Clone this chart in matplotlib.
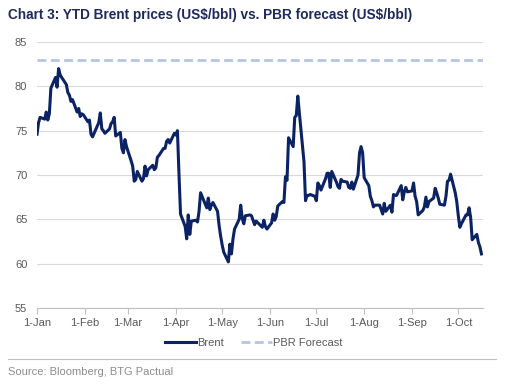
import matplotlib
matplotlib.use("Agg")
import matplotlib.pyplot as plt
import matplotlib.dates as mdates
import pandas as pd
from matplotlib.lines import Line2D

plt.rcParams['font.family'] = ['Liberation Sans', 'DejaVu Sans']

# Brent daily closes (US$/bbl)
dates = pd.to_datetime([
    "2025-01-01", "2025-01-02", "2025-01-03", "2025-01-06", "2025-01-07", "2025-01-08", "2025-01-09",
    "2025-01-10", "2025-01-13", "2025-01-14", "2025-01-15", "2025-01-16", "2025-01-17", "2025-01-20",
    "2025-01-21", "2025-01-22", "2025-01-23", "2025-01-24", "2025-01-27", "2025-01-28", "2025-01-29",
    "2025-01-30", "2025-01-31", "2025-02-03", "2025-02-04", "2025-02-05", "2025-02-06", "2025-02-07",
    "2025-02-10", "2025-02-11", "2025-02-12", "2025-02-13", "2025-02-14", "2025-02-17", "2025-02-18",
    "2025-02-19", "2025-02-20", "2025-02-21", "2025-02-24", "2025-02-25", "2025-02-26", "2025-02-27",
    "2025-02-28", "2025-03-03", "2025-03-04", "2025-03-05", "2025-03-06", "2025-03-07", "2025-03-10",
    "2025-03-11", "2025-03-12", "2025-03-13", "2025-03-14", "2025-03-17", "2025-03-18", "2025-03-19",
    "2025-03-20", "2025-03-21", "2025-03-24", "2025-03-25", "2025-03-26", "2025-03-27", "2025-03-28",
    "2025-03-31", "2025-04-01", "2025-04-02", "2025-04-03", "2025-04-04", "2025-04-07", "2025-04-08",
    "2025-04-09", "2025-04-10", "2025-04-11", "2025-04-14", "2025-04-15", "2025-04-16", "2025-04-17",
    "2025-04-21", "2025-04-22", "2025-04-23", "2025-04-24", "2025-04-25", "2025-04-28", "2025-04-29",
    "2025-04-30", "2025-05-01", "2025-05-02", "2025-05-05", "2025-05-06", "2025-05-07", "2025-05-08",
    "2025-05-09", "2025-05-12", "2025-05-13", "2025-05-14", "2025-05-15", "2025-05-16", "2025-05-19",
    "2025-05-20", "2025-05-21", "2025-05-22", "2025-05-23", "2025-05-27", "2025-05-28", "2025-05-29",
    "2025-05-30", "2025-06-02", "2025-06-03", "2025-06-04", "2025-06-05", "2025-06-06", "2025-06-09",
    "2025-06-10", "2025-06-11", "2025-06-12", "2025-06-13", "2025-06-16", "2025-06-17", "2025-06-18",
    "2025-06-19", "2025-06-20", "2025-06-23", "2025-06-24", "2025-06-25", "2025-06-26", "2025-06-27",
    "2025-06-30", "2025-07-01", "2025-07-02", "2025-07-03", "2025-07-04", "2025-07-07", "2025-07-08",
    "2025-07-09", "2025-07-10", "2025-07-11", "2025-07-14", "2025-07-15", "2025-07-16", "2025-07-17",
    "2025-07-18", "2025-07-21", "2025-07-22", "2025-07-23", "2025-07-24", "2025-07-25", "2025-07-28",
    "2025-07-29", "2025-07-30", "2025-07-31", "2025-08-01", "2025-08-04", "2025-08-05", "2025-08-06",
    "2025-08-07", "2025-08-08", "2025-08-11", "2025-08-12", "2025-08-13", "2025-08-14", "2025-08-15",
    "2025-08-18", "2025-08-19", "2025-08-20", "2025-08-21", "2025-08-22", "2025-08-25", "2025-08-26",
    "2025-08-27", "2025-08-28", "2025-08-29", "2025-09-01", "2025-09-02", "2025-09-03", "2025-09-04",
    "2025-09-05", "2025-09-08", "2025-09-09", "2025-09-10", "2025-09-11", "2025-09-12", "2025-09-15",
    "2025-09-16", "2025-09-17", "2025-09-18", "2025-09-19", "2025-09-22", "2025-09-23", "2025-09-24",
    "2025-09-25", "2025-09-26", "2025-09-29", "2025-09-30", "2025-10-01", "2025-10-02", "2025-10-03",
    "2025-10-06", "2025-10-07", "2025-10-08", "2025-10-09", "2025-10-10", "2025-10-13", "2025-10-14",
    "2025-10-15", "2025-10-16",
])
brent = [
    74.6, 75.9, 76.5, 76.3, 77.1, 76.2, 76.9,
    79.8, 81.0, 79.9, 82.0, 81.3, 81.0, 80.2,
    79.3, 79.0, 78.3, 78.5, 77.1, 77.5, 76.6,
    76.9, 76.8, 76.0, 76.2, 74.6, 74.3, 74.7,
    75.9, 77.0, 75.2, 75.0, 74.7, 75.2, 75.8,
    76.0, 76.5, 74.4, 74.8, 73.0, 72.5, 74.0,
    73.2, 71.6, 71.0, 69.3, 69.5, 70.4, 69.3,
    69.6, 71.0, 69.9, 70.6, 71.1, 70.6, 70.8,
    72.0, 72.2, 73.0, 73.0, 73.8, 74.0, 73.6,
    74.7, 74.5, 75.0, 70.1, 65.6, 64.2, 62.8,
    65.5, 63.3, 64.8, 64.9, 64.7, 65.9, 68.0,
    66.3, 67.4, 66.1, 66.6, 66.9, 65.9, 64.3,
    63.1, 62.1, 61.3, 60.2, 62.2, 61.1, 62.8,
    63.9, 65.0, 66.6, 65.1, 64.5, 65.4, 65.5,
    65.4, 64.9, 64.4, 64.8, 64.1, 64.9, 64.2,
    63.9, 64.6, 65.6, 64.9, 65.3, 66.5, 67.0,
    66.9, 69.8, 69.4, 74.2, 73.2, 76.5, 76.7,
    78.9, 77.0, 71.5, 67.1, 67.7, 67.7, 67.8,
    67.6, 67.1, 69.1, 68.8, 68.3, 69.6, 70.2,
    70.2, 68.6, 70.4, 69.2, 68.7, 68.5, 69.5,
    69.3, 69.2, 68.6, 68.5, 69.2, 68.4, 70.0,
    72.5, 73.2, 72.5, 69.7, 68.8, 67.6, 67.1,
    66.4, 66.6, 66.6, 66.1, 65.6, 66.8, 65.9,
    66.6, 65.8, 67.8, 67.7, 67.7, 68.8, 67.2,
    68.1, 68.6, 68.1, 68.2, 69.1, 67.6, 67.0,
    65.5, 66.0, 66.4, 67.5, 66.4, 67.0, 67.4,
    68.5, 68.0, 67.4, 66.7, 66.6, 67.6, 69.3,
    69.4, 70.1, 68.0, 67.0, 65.4, 64.1, 64.5,
    65.5, 65.5, 66.3, 65.2, 62.7, 63.3, 62.4,
    61.9, 61.1,
]
pbr_forecast = 83.0

month_ticks = pd.date_range("2025-01-01", "2025-10-01", freq="MS")
y_ticks = [55, 60, 65, 70, 75, 80, 85]

navy = "#0B2265"
pbr_col = "#B4C6E4"
grey = "#595959"
grid_col = "#D9D9D9"

fig = plt.figure(figsize=(5.08, 3.85), dpi=100)
ax = fig.add_axes([37 / 508, 1 - 308 / 385, (483 - 37) / 508, (308 - 42) / 385])

ax.axhline(pbr_forecast, color=pbr_col, lw=2.0, dashes=(3.2, 1.6), zorder=2)
ax.plot(dates, brent, color=navy, lw=2.2, zorder=3, solid_joinstyle="round")

ax.set_xlim(pd.Timestamp("2025-01-01"), pd.Timestamp("2025-10-17"))
ax.set_ylim(55, 85)
ax.set_yticks(y_ticks)
ax.set_xticks(month_ticks)
ax.xaxis.set_major_formatter(mdates.DateFormatter("%-d-%b"))
ax.grid(axis="y", color=grid_col, lw=0.8)
ax.set_axisbelow(True)

for s in ["top", "right", "left"]:
    ax.spines[s].set_visible(False)
ax.spines["bottom"].set_color("#BFBFBF")
ax.tick_params(axis="y", length=0, pad=7, labelsize=8, labelcolor=grey)
ax.tick_params(axis="x", length=4, color="#BFBFBF", pad=3, labelsize=8, labelcolor=grey)

fig.text(8 / 508, 1 - 15 / 385, r"Chart 3: YTD Brent prices (US\$/bbl) vs. PBR forecast (US\$/bbl)",
         fontsize=9.8, fontweight="bold", color="#1F2A5C", va="center", ha="left")

handles = [Line2D([], [], color=navy, lw=2.2),
           Line2D([], [], color=pbr_col, lw=2.0, dashes=(3.2, 1.6))]
fig.legend(handles, ["Brent", "PBR Forecast"], loc="center", bbox_to_anchor=(254 / 508, 1 - 343 / 385),
           ncol=2, frameon=False, fontsize=8, handlelength=2.8, handletextpad=0.1, columnspacing=1.5,
           labelcolor=grey)

fig.add_artist(Line2D([8 / 508, 496 / 508], [1 - 359 / 385] * 2, color="#BFBFBF", lw=0.8))
fig.text(8 / 508, 1 - 372 / 385, "Source: Bloomberg, BTG Pactual", fontsize=8, color="#8C8C8C",
         va="center", ha="left")

fig.savefig("out.png", dpi=100)
